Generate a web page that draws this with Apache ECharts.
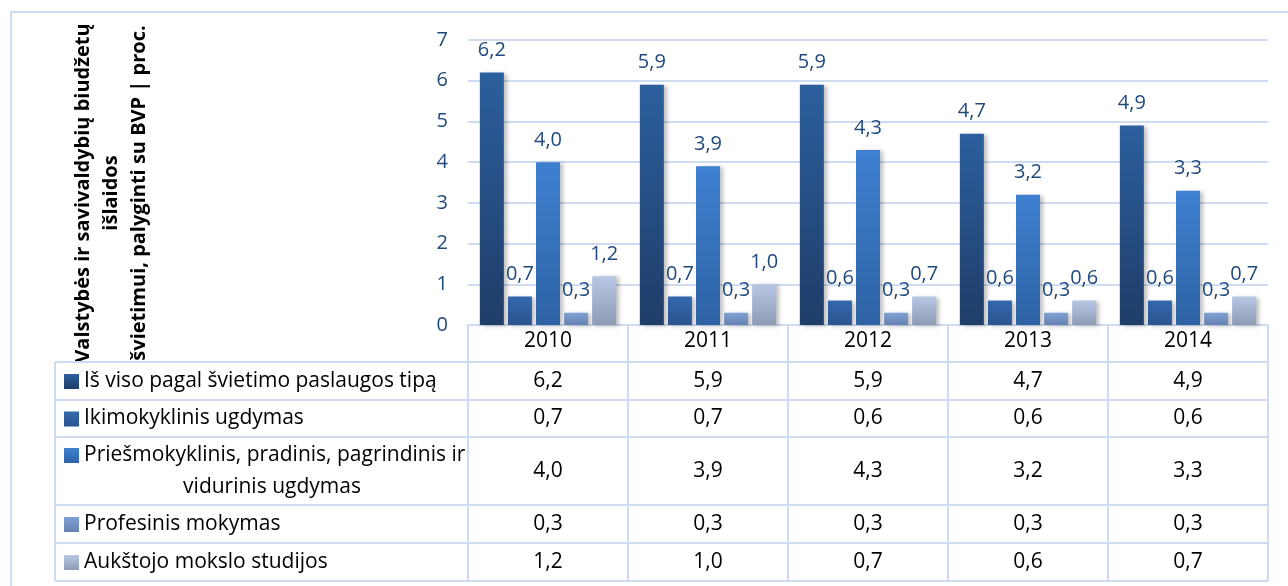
<!DOCTYPE html>
<html lang="lt">
  <head>
    <meta charset="UTF-8" />
    <title>švietimo išlaidos</title>
    <script src="https://cdn.jsdelivr.net/npm/echarts@6/dist/echarts.min.js"></script>
    <style>
      html, body { margin: 0; padding: 0; background: #fff; }
      #chart { width: 1288px; height: 586px; }
    </style>
  </head>
  <body>
    <div id="chart"></div>
    <script>
      // duomenys
      var years = ['2010', '2011', '2012', '2013', '2014'];
      var seriesNames = [
        'Iš viso pagal švietimo paslaugos tipą',
        'Ikimokyklinis ugdymas',
        'Priešmokyklinis, pradinis, pagrindinis ir\nvidurinis ugdymas',
        'Profesinis mokymas',
        'Aukštojo mokslo studijos'
      ];
      var total = [6.2, 5.9, 5.9, 4.7, 4.9];
      var preschool = [0.7, 0.7, 0.6, 0.6, 0.6];
      var school = [4.0, 3.9, 4.3, 3.2, 3.3];
      var vocational = [0.3, 0.3, 0.3, 0.3, 0.3];
      var higher = [1.2, 1.0, 0.7, 0.6, 0.7];
      var yTicks = [0, 1, 2, 3, 4, 5, 6, 7];
      var yTitle = 'Valstybės ir savivaldybių biudžetų\nišlaidos\nšvietimui, palyginti su BVP | proc.';

      var seriesData = [total, preschool, school, vocational, higher];

      // spalvos [viršus, apačia]
      var colors = [
        ['#2c5f9e', '#1f3d68'],
        ['#3368ae', '#2a548f'],
        ['#3e81d1', '#2e62a4'],
        ['#7fa0d5', '#6882b0'],
        ['#b7c7e3', '#8f9bb6']
      ];
      var lineColor = '#cddcf0';
      var font = '"Open Sans"';

      var fmt = function (v) {
        return v.toFixed(1).replace('.', ',');
      };
      var grad = function (c) {
        return new echarts.graphic.LinearGradient(0, 0, 0, 1, [
          { offset: 0, color: c[0] },
          { offset: 1, color: c[1] }
        ]);
      };

      var chart = echarts.init(document.getElementById('chart'));

      var series = seriesData.map(function (d, i) {
        return {
          name: seriesNames[i],
          type: 'bar',
          data: d,
          barWidth: 24,
          barGap: '17%',
          itemStyle: {
            color: grad(colors[i]),
            shadowColor: 'rgba(0,0,0,0.25)',
            shadowBlur: 4,
            shadowOffsetX: 3,
            shadowOffsetY: 1
          },
          label: {
            show: true,
            position: 'top',
            distance: 12,
            color: '#1f497d',
            fontFamily: font,
            fontSize: 20,
            formatter: function (p) {
              return fmt(p.value);
            }
          }
        };
      });

      var gridTop = 40, gridBottomY = 325;

      chart.setOption({
        animation: false,
        grid: { left: 468, right: 20, top: gridTop, bottom: 586 - gridBottomY },
        xAxis: {
          type: 'category',
          data: years,
          axisLine: { lineStyle: { color: lineColor, width: 2 } },
          axisTick: { show: true, length: 256, lineStyle: { color: lineColor, width: 2 } },
          axisLabel: { color: '#000', fontFamily: font, fontSize: 21, margin: 6 }
        },
        yAxis: {
          type: 'value',
          min: yTicks[0],
          max: yTicks[yTicks.length - 1],
          interval: 1,
          axisLine: { show: false },
          axisTick: { show: false },
          axisLabel: { color: '#1f497d', fontFamily: font, fontSize: 20, margin: 20 },
          splitLine: { lineStyle: { color: lineColor, width: 2 } }
        },
        series: series
      });

      // lentelė po diagrama
      var tableLeft = 55, tableRight = 1268, headTop = 362;
      var rowHeights = [38, 37, 68, 38, 38];
      var g = [];

      // rėmelis
      g.push({
        type: 'rect', z: 0,
        shape: { x: 11, y: 12, width: 1300, height: 620 },
        style: { fill: 'none', stroke: lineColor, lineWidth: 2 }
      });

      g.push({
        type: 'text', z: 1,
        x: 111, y: 193, rotation: Math.PI / 2,
        style: {
          text: yTitle, align: 'center', verticalAlign: 'middle',
          lineHeight: 28, fill: '#000',
          font: 'bold 20px ' + font
        }
      });

      var cellFont = '21px ' + font;
      var y = headTop;
      g.push({
        type: 'line', z: 2,
        shape: { x1: tableLeft, y1: y, x2: tableRight, y2: y },
        style: { stroke: lineColor, lineWidth: 2 }
      });
      rowHeights.forEach(function (h, i) {
        var mid = y + h / 2;
        var lines = seriesNames[i].split('\n');
        var sqY = lines.length > 1 ? mid - 16 : mid;
        g.push({
          type: 'rect', z: 3,
          shape: { x: 64, y: sqY - 7, width: 15, height: 15 },
          style: { fill: grad(colors[i]) }
        });
        if (lines.length > 1) {
          g.push({
            type: 'text', z: 3, x: 84, y: mid - 16,
            style: { text: lines[0], align: 'left', verticalAlign: 'middle', fill: '#000', font: cellFont }
          });
          g.push({
            type: 'text', z: 3, x: 272, y: mid + 16,
            style: { text: lines[1], align: 'center', verticalAlign: 'middle', fill: '#000', font: cellFont }
          });
        } else {
          g.push({
            type: 'text', z: 3, x: 84, y: mid,
            style: { text: lines[0], align: 'left', verticalAlign: 'middle', fill: '#000', font: cellFont }
          });
        }
        years.forEach(function (yr, j) {
          var cx = chart.convertToPixel({ xAxisIndex: 0 }, yr);
          g.push({
            type: 'text', z: 3, x: cx, y: mid,
            style: { text: fmt(seriesData[i][j]), align: 'center', verticalAlign: 'middle', fill: '#000', font: cellFont }
          });
        });
        y += h;
        g.push({
          type: 'line', z: 2,
          shape: { x1: tableLeft, y1: y, x2: tableRight, y2: y },
          style: { stroke: lineColor, lineWidth: 2 }
        });
      });
      g.push({
        type: 'line', z: 2,
        shape: { x1: tableLeft, y1: headTop, x2: tableLeft, y2: y },
        style: { stroke: lineColor, lineWidth: 2 }
      });

      chart.setOption({ graphic: g });
    </script>
  </body>
</html>
